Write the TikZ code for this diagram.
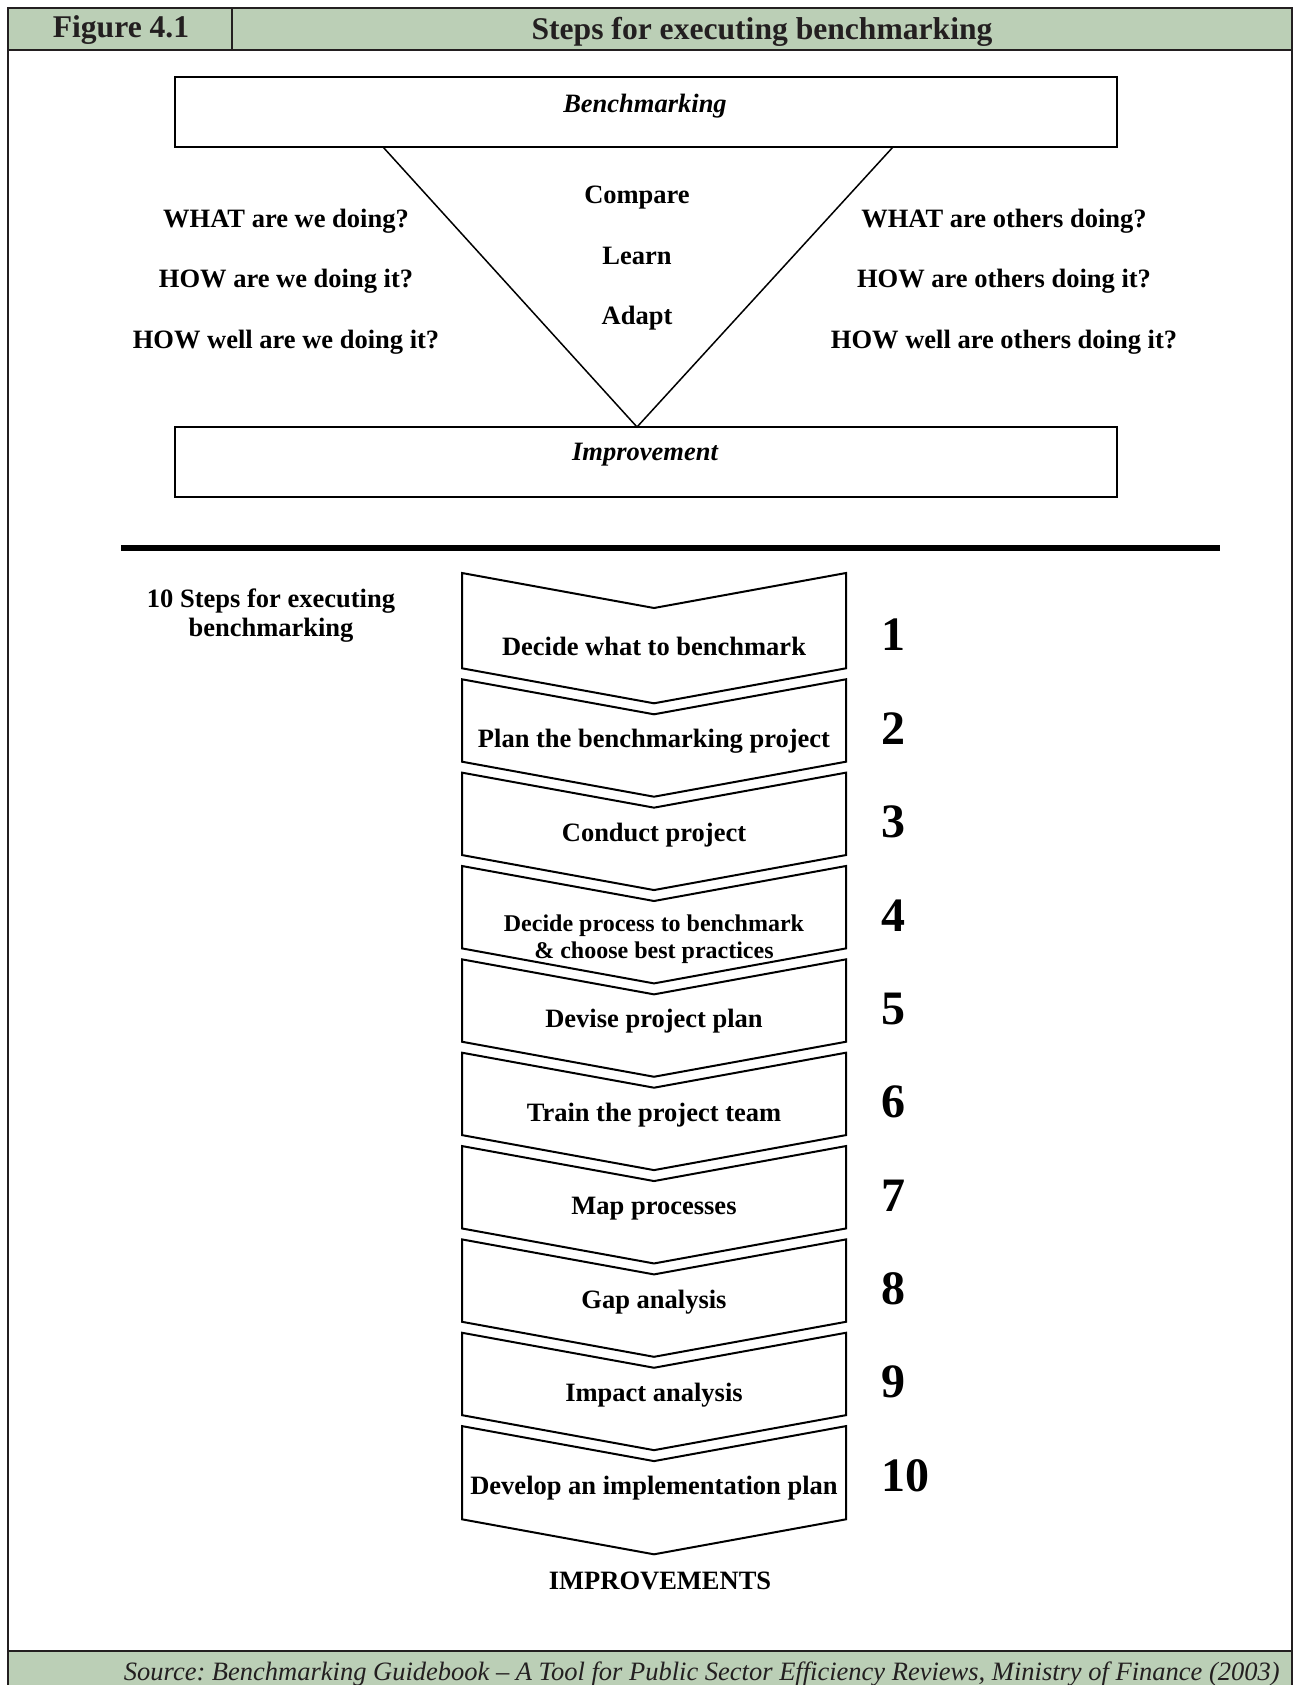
\documentclass[tikz,border=0pt]{standalone}
\usepackage{fontspec}
\setmainfont{Liberation Serif}
\definecolor{band}{RGB}{187,207,182}
\definecolor{ink}{RGB}{35,31,32}

\begin{document}
\begin{tikzpicture}[x=0.5pt,y=-0.5pt,
  every node/.style={inner sep=0pt},
  bodytext/.style={font=\fontsize{13.25}{15.9}\selectfont\bfseries},
  headtext/.style={font=\fontsize{15.8}{18}\selectfont\bfseries, text=ink},
  frameline/.style={draw=ink, line width=1.2pt},
  panel/.style={draw, line width=1pt, minimum width=471pt, minimum height=35pt},
  chevron/.style={draw, line width=1pt, line join=miter},
  stepnum/.style={font=\fontsize{24}{28}\selectfont\bfseries, anchor=west}]
\useasboundingbox (0,0) rectangle (1293,1685);

% header and footer bands
\fill[band] (8,8) rectangle (1292,50);
\fill[band] (8,1651) rectangle (1292,1690);
\draw[frameline] (8,1690) -- (8,8) -- (1292,8) -- (1292,1690);
\draw[frameline] (8,50) -- (1292,50);
\draw[frameline] (232,8) -- (232,50);
\draw[frameline] (8,1651) -- (1292,1651);
\node[headtext] (fig) at (121,30) {Figure 4.1};
\node[headtext] (title) at (762,32) {Steps for executing benchmarking};
\node[font=\fontsize{13.25}{16}\selectfont\itshape, text=ink, anchor=east] (src) at (1280,1674)
  {Source:\ Benchmarking Guidebook -- A Tool for Public Sector Efficiency Reviews, Ministry of Finance (2003)};

% benchmarking funnel
\node[panel] (bench) at (646,112) {};
\node[panel] (impr) at (646,462) {};
\node[bodytext, font=\fontsize{13.25}{15.9}\selectfont\bfseries\itshape] (benchT) at (645,106) {Benchmarking};
\node[bodytext, font=\fontsize{13.25}{15.9}\selectfont\bfseries\itshape] (imprT) at (645,455) {Improvement};
\coordinate (vL) at (383,147);
\coordinate (vR) at (893,147);
\coordinate (vB) at (637,427);
\draw[line width=0.75pt] (vL) -- (vB) -- (vR);

\node[bodytext] (cmp) at (637,198) {Compare};
\node[bodytext] (lrn) at (637,256) {Learn};
\node[bodytext] (adp) at (637,318) {Adapt};

\node[bodytext] (wq1) at (286,221) {WHAT are we doing?};
\node[bodytext] (wq2) at (286,281) {HOW are we doing it?};
\node[bodytext] (wq3) at (286,342) {HOW well are we doing it?};
\node[bodytext] (oq1) at (1004,221) {WHAT are others doing?};
\node[bodytext] (oq2) at (1004,281) {HOW are others doing it?};
\node[bodytext] (oq3) at (1004,342) {HOW well are others doing it?};

% separator
\draw[line width=2.6pt] (121,548) -- (1220,548);

% ten steps
\node[bodytext, align=center, font=\fontsize{13.25}{14.5}\selectfont\bfseries] (tenT) at (271,616)
  {10 Steps for executing\\benchmarking};

\foreach \t/\b in {573/668.3, 679.3/761.7, 772.65/855.05, 866.0/948.4, 959.35/1041.75,
                   1052.7/1135.1, 1146.05/1228.45, 1239.4/1321.8, 1332.75/1415.15, 1426.1/1519.3}
  \draw[chevron] (462,\t) -- (654,\t+35) -- (846,\t) -- (846,\b) -- (654,\b+35) -- (462,\b) -- cycle;

\node[bodytext] (s1) at (654,646) {Decide what to benchmark};
\node[bodytext] (s2) at (654,741.4) {Plan the benchmarking project};
\node[bodytext] (s3) at (654,834.8) {Conduct project};
\node[bodytext, align=center, font=\fontsize{12}{13.5}\selectfont\bfseries] (s4) at (654,939.5)
  {Decide process to benchmark\\\&\ choose best practices};
\node[bodytext] (s5) at (654,1021.6) {Devise project plan};
\node[bodytext] (s6) at (654,1115) {Train the project team};
\node[bodytext] (s7) at (654,1208.4) {Map processes};
\node[bodytext] (s8) at (654,1301.8) {Gap analysis};
\node[bodytext] (s9) at (654,1395.2) {Impact analysis};
\node[bodytext] (s10) at (654,1488.6) {Develop an implementation plan};

\foreach \k in {1,...,10}
  \node[stepnum] (n\k) at (881,{635+93.4*(\k-1)}) {\k};

\node[bodytext] (imps) at (660,1581) {IMPROVEMENTS};
\end{tikzpicture}
\end{document}
